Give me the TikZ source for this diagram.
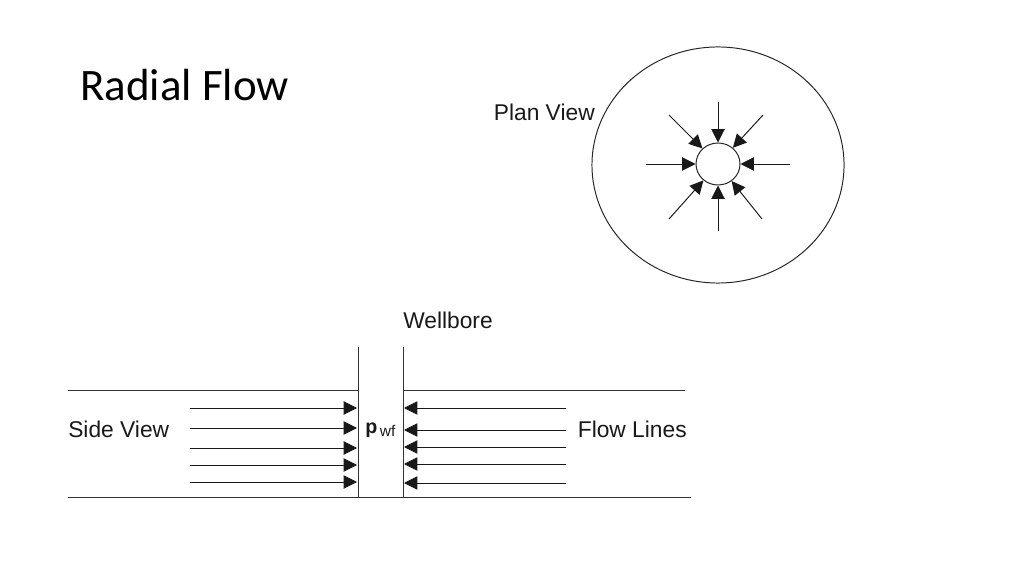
\documentclass[tikz,border=0pt]{standalone}
\usepackage{fontspec}
\setmainfont{Liberation Sans}
\newfontfamily\titlefont{Carlito}
\usetikzlibrary{arrows.meta,shapes.geometric}
\tikzset{
	flowline/.style={draw=black!90, line width=0.7pt, -{Stealth[length=9.5pt, width=9.5pt, inset=0pt]}},
	wallline/.style={draw=black!80, line width=0.7pt},
	viewlabel/.style={text=black!90, inner sep=0pt, font=\fontsize{16.2}{18}\selectfont},
	bore/.style={draw=black!85, line width=0.7pt, ellipse, inner sep=0pt}
}
\begin{document}
\begin{tikzpicture}[x=0.025cm, y=-0.025cm]
	\useasboundingbox (0,0) rectangle (1024,576);
	\node[inner sep=0pt, anchor=west, font=\titlefont\fontsize{32}{35}\selectfont] (title)at(80, 85) {Radial Flow};
	% plan view
	\node[bore, minimum width=6.3cm, minimum height=5.9cm] (R)at(718, 165) {};
	\node[bore, minimum width=1.1cm, minimum height=1.05cm] (W)at(718, 164) {};
	\node[viewlabel, anchor=east] (P)at(595, 112) {Plan View};
	\coordinate (N)at(718, 102);
	\coordinate (NE)at(763, 115);
	\coordinate (E)at(790, 164);
	\coordinate (SE)at(762, 219);
	\coordinate (S)at(718, 231);
	\coordinate (SW)at(669, 219);
	\coordinate (O)at(646, 164);
	\coordinate (NW)at(669, 115);
	\foreach \from in {N, NE, E, SE, S, SW, O, NW}
		\draw[flowline] (\from) -- (W);
	% side view
	\node[viewlabel, anchor=south west] (B)at(403, 329.5) {Wellbore};
	\node[viewlabel, anchor=west] (V)at(68, 429) {Side View};
	\node[viewlabel, anchor=east] (L)at(687, 429) {Flow Lines};
	\node[inner sep=0pt, anchor=base west, text=black!90, font=\fontsize{14}{16}\selectfont] (F)at(365, 433) {\textbf{p}{\fontsize{11}{13}\selectfont\,\raisebox{-2.5pt}{wf}}};
	\coordinate (A1)at(358, 347);
	\coordinate (A2)at(358, 497);
	\coordinate (C1)at(403, 347);
	\coordinate (C2)at(403, 497);
	\coordinate (T1)at(68, 390);
	\coordinate (T2)at(358, 390);
	\coordinate (T3)at(403, 390);
	\coordinate (T4)at(685, 390);
	\coordinate (U1)at(68, 497);
	\coordinate (U2)at(691, 497);
	\draw[wallline] (A1) -- (A2);
	\draw[wallline] (C1) -- (C2);
	\draw[wallline] (T1) -- (T2);
	\draw[wallline] (T3) -- (T4);
	\draw[wallline] (U1) -- (U2);
	\foreach \i/\y in {1/408, 2/428, 3/448, 4/465, 5/482} {
		\coordinate (a\i)at(190, \y);
		\coordinate (b\i)at(357, \y);
		\draw[flowline] (a\i) -- (b\i);
	}
	\foreach \i/\y in {1/408, 2/430, 3/447, 4/464, 5/483} {
		\coordinate (c\i)at(566, \y);
		\coordinate (d\i)at(404, \y);
		\draw[flowline] (c\i) -- (d\i);
	}
\end{tikzpicture}
\end{document}
